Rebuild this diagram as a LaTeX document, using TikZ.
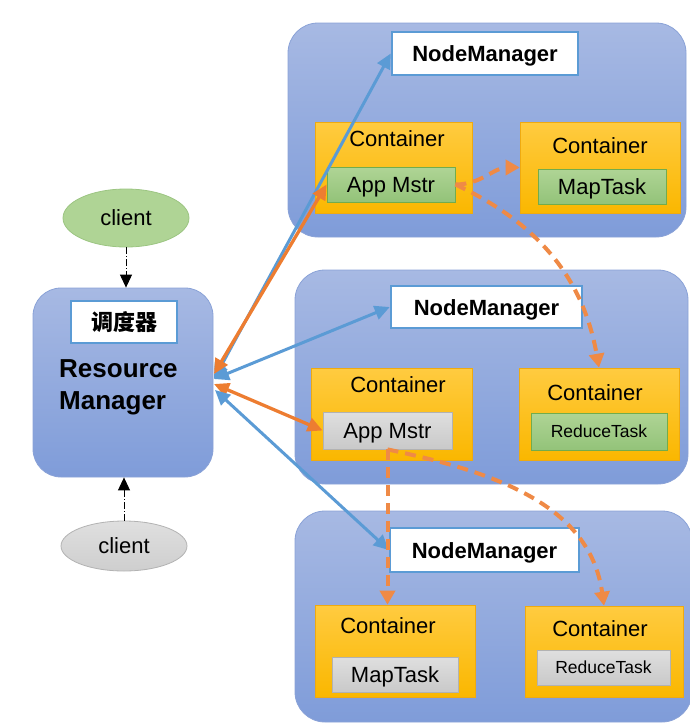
\documentclass[tikz,border=0pt]{standalone}
\usepackage{fontspec}
\setmainfont{Liberation Sans}
\newfontfamily\cjk{Noto Sans CJK SC}
\usepackage{tikz}
\usetikzlibrary{arrows.meta}
\usetikzlibrary{shapes.geometric}
\definecolor{YarnBlue}{HTML}{5B9BD5}
\definecolor{YarnOrange}{HTML}{ED7D31}
\definecolor{HostTop}{HTML}{A7B9E3}
\definecolor{HostBottom}{HTML}{7F9CD9}
\definecolor{HostBorder}{HTML}{8AA2D7}
\definecolor{ContTop}{HTML}{FFCB40}
\definecolor{ContBottom}{HTML}{FAB700}
\definecolor{ContBorder}{HTML}{EFAA10}
\definecolor{TaskTop}{HTML}{AFD495}
\definecolor{TaskBottom}{HTML}{93C379}
\definecolor{TaskBorder}{HTML}{72AC4C}
\definecolor{IdleTop}{HTML}{DFDFDF}
\definecolor{IdleBottom}{HTML}{C9C9C9}
\definecolor{IdleBorder}{HTML}{B2B2B2}
\tikzstyle{host} = [rectangle, rounded corners=30pt, top color=HostTop, bottom color=HostBottom, draw=HostBorder, line width=0.8pt, inner sep=0pt]
\tikzstyle{namebox} = [rectangle, fill=white, draw=YarnBlue, line width=2.5pt, inner sep=0pt, font=\fontsize{22}{26}\selectfont\bfseries, text height=16pt, text depth=0pt]
\tikzstyle{container} = [rectangle, top color=ContTop, bottom color=ContBottom, draw=ContBorder, line width=0.6pt, inner sep=0pt]
\tikzstyle{ctext} = [inner sep=0pt, font=\fontsize{22}{26}\selectfont, text height=16pt, text depth=0pt]
\tikzstyle{task} = [rectangle, top color=TaskTop, bottom color=TaskBottom, draw=TaskBorder, line width=0.8pt, inner sep=0pt, font=\fontsize{22}{26}\selectfont, text height=16pt, text depth=0pt]
\tikzstyle{idle} = [task, top color=IdleTop, bottom color=IdleBottom, draw=IdleBorder]
\tikzstyle{small} = [font=\fontsize{17.5}{21}\selectfont, text height=12.5pt]
\tikzstyle{client} = [ellipse, inner sep=0pt, line width=0.8pt, font=\fontsize{22}{26}\selectfont]
\tikzstyle{rpc} = [{Triangle[length=15pt,width=14pt]}-{Triangle[length=15pt,width=14pt]}, line width=3pt, YarnBlue]
\tikzstyle{amrpc} = [rpc, YarnOrange, line width=3.3pt]
\tikzstyle{launch} = [-{Triangle[length=14pt,width=15pt]}, YarnOrange!90!white, line width=4pt, dash pattern=on 11pt off 7pt]
\tikzstyle{submit} = [-{Triangle[length=13pt,width=12pt]}, black, line width=0.9pt, dash pattern=on 7pt off 2pt on 1pt off 2pt]

\begin{document}
\begin{tikzpicture}[x=1pt,y=-1pt]
	\useasboundingbox (0,0) rectangle (689,723);

	% Node managers
	\node[host, minimum width=398pt, minimum height=214pt] (H1) at (487,130) {};
	\node[host, minimum width=393pt, minimum height=214pt] (H2) at (491.5,377) {};
	\node[host, minimum width=397pt, minimum height=211pt] (H3) at (493.5,616.5) {};
	\node[namebox, minimum width=186pt, minimum height=43pt] (N1) at (485,53.5) {NodeManager};
	\node[namebox, minimum width=191pt, minimum height=42pt] (N2) at (486.5,307) {NodeManager};
	\node[namebox, minimum width=189pt, minimum height=44pt] (N3) at (484.5,550) {NodeManager};

	% Containers
	\node[container, minimum width=157pt, minimum height=91pt] (C11) at (393.5,167.5) {};
	\node[container, minimum width=160pt, minimum height=91pt] (C12) at (600,167.5) {};
	\node[container, minimum width=161pt, minimum height=92pt] (C21) at (391.5,414) {};
	\node[container, minimum width=160pt, minimum height=92pt] (C22) at (599,414) {};
	\node[container, minimum width=160pt, minimum height=92pt] (C31) at (395,651) {};
	\node[container, minimum width=158pt, minimum height=91pt] (C32) at (604,651.5) {};
	\node[ctext] (t11) at (397,138) {Container};
	\node[ctext] (t12) at (600,145) {Container};
	\node[ctext] (t21) at (398,384) {Container};
	\node[ctext] (t22) at (595,392) {Container};
	\node[ctext] (t31) at (388,625) {Container};
	\node[ctext] (t32) at (600,628) {Container};

	% Tasks
	\node[task, minimum width=128pt, minimum height=35pt] (AM1) at (391,184.5) {App Mstr};
	\node[task, minimum width=128pt, minimum height=35pt] (MT1) at (602,186.5) {MapTask};
	\node[idle, minimum width=129pt, minimum height=37pt] (AM2) at (387.5,430.5) {App Mstr};
	\node[task, small, minimum width=136pt, minimum height=37pt] (RT2) at (599,431.5) {ReduceTask};
	\node[idle, minimum width=126pt, minimum height=35pt] (MT3) at (395,674.5) {MapTask};
	\node[idle, small, minimum width=133pt, minimum height=35pt] (RT3) at (603.5,667.5) {ReduceTask};

	% Resource manager
	\node[host, rounded corners=28pt, minimum width=180pt, minimum height=189pt] (RM) at (123,382.5) {};
	\node[namebox, font=\fontsize{22}{26}\selectfont\bfseries\cjk, minimum width=106pt, minimum height=42pt] (S) at (124,322) {调度器};
	\node[inner sep=0pt, align=left, anchor=west, font=\fontsize{26}{32}\selectfont\bfseries] (RMtext) at (59,387) {Resource\\Manager};
	\node[client, fill=TaskTop, draw=TaskBorder!70, minimum width=126pt, minimum height=58pt] (cg) at (126,218) {client};
	\node[client, top color=IdleTop, bottom color=IdleBottom!90, draw=IdleBorder, minimum width=126pt, minimum height=50pt] (cc) at (124,546) {client};

	\draw[submit] (cg.south) -- (cg.south |- RM.north);
	\draw[submit] (cc.north) -- (cc.north |- RM.south);

	% RM side ends
	\coordinate (r1) at (214,374);
	\coordinate (r2) at (214,379);
	\coordinate (r3) at (214,384);
	\coordinate (r4) at (215,390);

	\draw[rpc] (r2) -- (N1.west);
	\draw[amrpc] (r1) -- (AM1.west);
	\draw[rpc] (r2) -- (N2.west);
	\draw[amrpc] (r3) -- (AM2.west);
	\draw[rpc] (r4) -- (N3.west);

	% Launch containers
	\draw[launch] (AM1.east) to[out=0,in=180] (C12.west);
	\draw[launch] (AM1.east) to[out=-25,in=100] (C22.north);
	\draw[launch] (AM2.south) -- (AM2.south |- C31.north);
	\draw[launch] (AM2.south) to[out=-12,in=98] (C32.north);
\end{tikzpicture}
\end{document}
